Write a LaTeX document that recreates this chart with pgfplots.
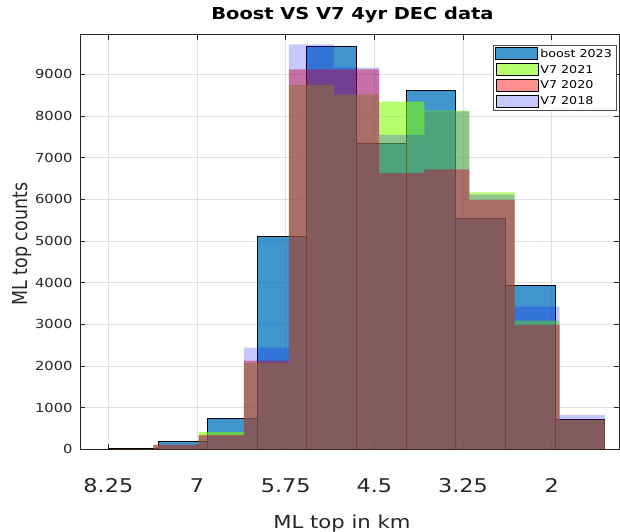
\documentclass[border=0pt]{standalone}
\usepackage{fontspec}
\setmainfont{DejaVu Sans}[FakeStretch=1.18]
\newfontfamily\ylabfont{DejaVu Sans}
\usepackage{graphicx}
\usepackage{pgfplots}
\pgfplotsset{compat=1.18}
\definecolor{boostc}{RGB}{0,114,189}
\definecolor{v21c}{RGB}{128,255,0}
\definecolor{v20c}{RGB}{255,0,0}
\definecolor{v18c}{RGB}{0,0,255}
\definecolor{axc}{RGB}{38,38,38}
\pgfplotsset{mybar/.style={ybar interval, legend image code/.code={\draw[##1] (0bp,-6bp) rectangle (42bp,6bp);}}}
\begin{document}
\begin{tikzpicture}
\useasboundingbox (0,0) rectangle (620bp,532bp);
\begin{axis}[
  at={(80bp,82.7bp)}, anchor=south west,
  width=539bp, height=414.6bp, scale only axis,
  x dir=reverse,
  xmin=1.05, xmax=8.65, ymin=0, ymax=9950,
  xtick={8.25,7,5.75,4.5,3.25,2},
  xticklabels={8.25,7,5.75,4.5,3.25,2},
  ytick={0,1000,...,9000},
  scaled y ticks=false,
  /pgf/number format/1000 sep={},
  /pgf/number format/assume math mode=true,
  tick align=inside, major tick length=5bp,
  grid=major, major grid style={black!12, line width=0.5bp},
  axis line style={axc, line width=0.9bp},
  tick style={axc, line width=0.7bp},
  xticklabel style={font=\fontsize{19}{22}\selectfont, yshift=-26bp, text=black!85},
  yticklabel style={font=\fontsize{12.5}{15}\selectfont, xshift=-4bp, text=black!85},
  title={Boost VS V7 4yr DEC data},
  title style={font=\bfseries\fontsize{16.5}{19}\selectfont, at={(axis description cs:0.5056,1)}, anchor=base, yshift=9.7bp},
  xlabel={ML top in km},
  xlabel style={font=\fontsize{18}{21}\selectfont, at={(axis description cs:0.486,0)}, anchor=base, yshift=-78.7bp, text=black!85},
  ylabel={\scalebox{1}[1.18]{\ylabfont\fontsize{17.5}{20}\selectfont ML top counts}},
  ylabel style={at={(axis description cs:-0.1067,0.495)}, anchor=center, text=black!85},
  legend style={at={(axis description cs:0.9957,0.9752)}, anchor=north east, draw=black!70, line width=0.6bp, font=\fontsize{10.8}{12}\selectfont, inner xsep=2.5bp, inner ysep=2bp, row sep=3.3bp, nodes={inner xsep=2bp, inner ysep=0.5bp}},
  legend cell align=left,
]
\addplot[mybar, fill=boostc, fill opacity=0.75, draw=black, line width=0.9bp] coordinates {
(1.25,720) (1.95,3943) (2.65,5543) (3.35,8606) (4.05,7343) (4.75,9670) (5.45,5102) (6.15,744) (6.85,180) (7.55,15) (8.25,15)};
\addplot[mybar, fill=v21c, fill opacity=0.57, draw=none] coordinates {
(1.25,705) (1.8864,3087) (2.5227,6168) (3.1591,8126) (3.7955,8342) (4.4318,8510) (5.0682,8743) (5.7045,2080) (6.3409,410) (6.9773,95) (7.6136,5) (8.25,5)};
\addplot[mybar, fill=v20c, fill opacity=0.44, draw=none] coordinates {
(1.25,715) (1.8864,2985) (2.5227,5983) (3.1591,6717) (3.7955,6625) (4.4318,9120) (5.0682,9120) (5.7045,2126) (6.3409,345) (6.9773,110) (7.6136,5) (8.25,5)};
\addplot[mybar, fill=v18c, fill opacity=0.22, draw=none] coordinates {
(1.25,823) (1.8864,3423) (2.5227,6110) (3.1591,8110) (3.7955,7543) (4.4318,9160) (5.0682,9720) (5.7045,2438) (6.3409,330) (6.9773,95) (7.6136,5) (8.25,5)};
\legend{boost 2023, V7 2021, V7 2020, V7 2018}
\end{axis}
\end{tikzpicture}
\end{document}
